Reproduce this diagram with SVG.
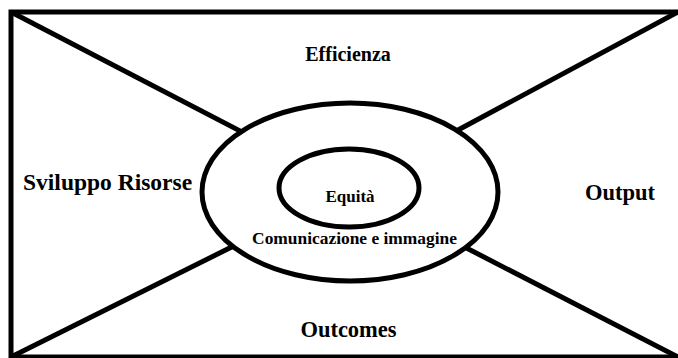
<svg xmlns="http://www.w3.org/2000/svg" width="678" height="358" viewBox="0 0 678 358">
<style>
.ln{stroke:#000;stroke-width:5;fill:none}
.el{stroke:#000;stroke-width:5;fill:#fff}
.t{font-family:"Liberation Serif","Times New Roman",serif;font-weight:bold;fill:#000}
</style>
<rect x="0" y="0" width="678" height="358" fill="#fff"/>
<g id="frame"><rect class="ln" x="11" y="12" width="670" height="345"/></g>
<g id="connectors">
<line class="ln" x1="11" y1="12" x2="350" y2="188"/>
<line class="ln" x1="678" y1="12" x2="350" y2="188"/>
<line class="ln" x1="11" y1="357" x2="350" y2="188"/>
<line class="ln" x1="678" y1="357" x2="350" y2="188"/>
</g>
<g id="comunicazione">
<ellipse class="el" cx="350" cy="192" rx="148" ry="89"/>
<text class="t" x="354.5" y="244" font-size="17.4" text-anchor="middle">Comunicazione e immagine</text>
</g>
<g id="equita">
<ellipse class="el" cx="349" cy="188" rx="70" ry="39"/>
<text class="t" x="350" y="202" font-size="17" text-anchor="middle">Equità</text>
</g>
<g id="efficienza"><text class="t" x="348" y="61" font-size="20" text-anchor="middle">Efficienza</text></g>
<g id="sviluppo"><text class="t" x="23" y="190" font-size="23.5">Sviluppo Risorse</text></g>
<g id="output"><text class="t" x="585" y="200" font-size="22.5">Output</text></g>
<g id="outcomes"><text class="t" x="348.5" y="337" font-size="22.5" text-anchor="middle">Outcomes</text></g>
</svg>
